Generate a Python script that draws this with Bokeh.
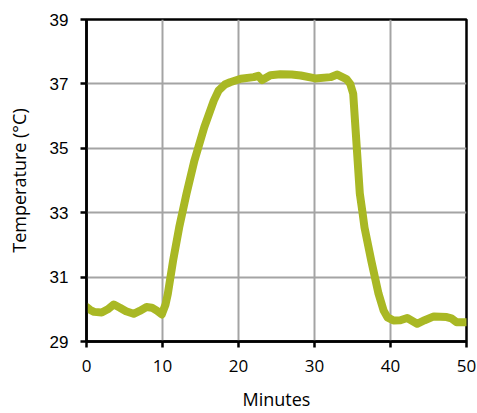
from bokeh.plotting import figure
from bokeh.embed import file_html
from bokeh.resources import INLINE
from bokeh.models import FixedTicker

minutes = [0, 0.5, 1, 2, 2.8, 3.6, 4.4, 5.2, 6.2, 7.0, 7.9, 8.6, 9.3, 9.9,
           10.4, 10.7, 11.4, 12.2, 13.16, 14.2, 15.5, 16.75, 17.4, 18.2, 18.9,
           20.3, 22.0, 22.6, 23.1, 24.2, 25.5, 27.0, 28.2, 30.1, 32.1, 33.0,
           34.2, 34.7, 35.09, 35.96, 36.28, 36.58, 37.46, 38.42, 39.1, 39.6,
           40.4, 41.3, 42.2, 43.5, 44.5, 45.7, 47.4, 48.0, 48.7, 50.0]
temps = [30.07, 29.98, 29.92, 29.9, 30.0, 30.15, 30.05, 29.94, 29.86, 29.95,
         30.07, 30.05, 29.95, 29.84, 30.15, 30.48, 31.52, 32.55, 33.59, 34.62,
         35.66, 36.48, 36.8, 36.98, 37.05, 37.16, 37.21, 37.25, 37.12, 37.27,
         37.3, 37.29, 37.26, 37.17, 37.21, 37.29, 37.15, 37.0, 36.7, 33.6,
         33.07, 32.54, 31.52, 30.49, 29.96, 29.75, 29.65, 29.66, 29.73, 29.55,
         29.66, 29.78, 29.76, 29.72, 29.6, 29.6]

x_ticks = [0, 10, 20, 30, 40, 50]
y_ticks = [29, 31, 33, 35, 37, 39]

p = figure(width=477, height=413, x_range=(0, 50), y_range=(29, 39),
           output_backend="svg", toolbar_location=None,
           min_border_left=86, min_border_right=11,
           min_border_top=19, min_border_bottom=72)

p.line(minutes, temps, line_color="#a9b824", line_width=8,
       line_join="round", line_cap="round")

p.xaxis.ticker = FixedTicker(ticks=x_ticks)
p.yaxis.ticker = FixedTicker(ticks=y_ticks)

for ax in (p.xaxis[0], p.yaxis[0]):
    ax.axis_line_color = "black"
    ax.axis_line_width = 2.5
    ax.major_tick_line_color = "black"
    ax.major_tick_line_width = 2.5
    ax.major_tick_out = 6
    ax.major_tick_in = 0
    ax.minor_tick_line_color = None
    ax.major_label_text_color = "black"
    ax.major_label_text_font_size = "17px"
    ax.axis_label_text_font = "Open Sans"
    ax.axis_label_text_font_style = "normal"
    ax.axis_label_text_font_size = "18px"
    ax.axis_label_text_color = "black"

p.xaxis.major_label_text_font = "Open Sans"
p.yaxis.major_label_text_font = "Liberation Sans"
p.xaxis.major_label_standoff = 12
p.yaxis.major_label_standoff = 12
p.xaxis.axis_label = "Minutes"
p.yaxis.axis_label = "Temperature (°C)"
p.xaxis.axis_label_standoff = 12
p.yaxis.axis_label_standoff = 16

p.xgrid.grid_line_color = "#a4a4a4"
p.ygrid.grid_line_color = "#a4a4a4"
p.xgrid.grid_line_width = 2
p.ygrid.grid_line_width = 2

p.outline_line_color = "black"
p.outline_line_width = 2.5
p.outline_line_alpha = 1
p.background_fill_color = "white"
p.border_fill_color = "white"

open("out.html", "w").write(file_html(p, INLINE))
